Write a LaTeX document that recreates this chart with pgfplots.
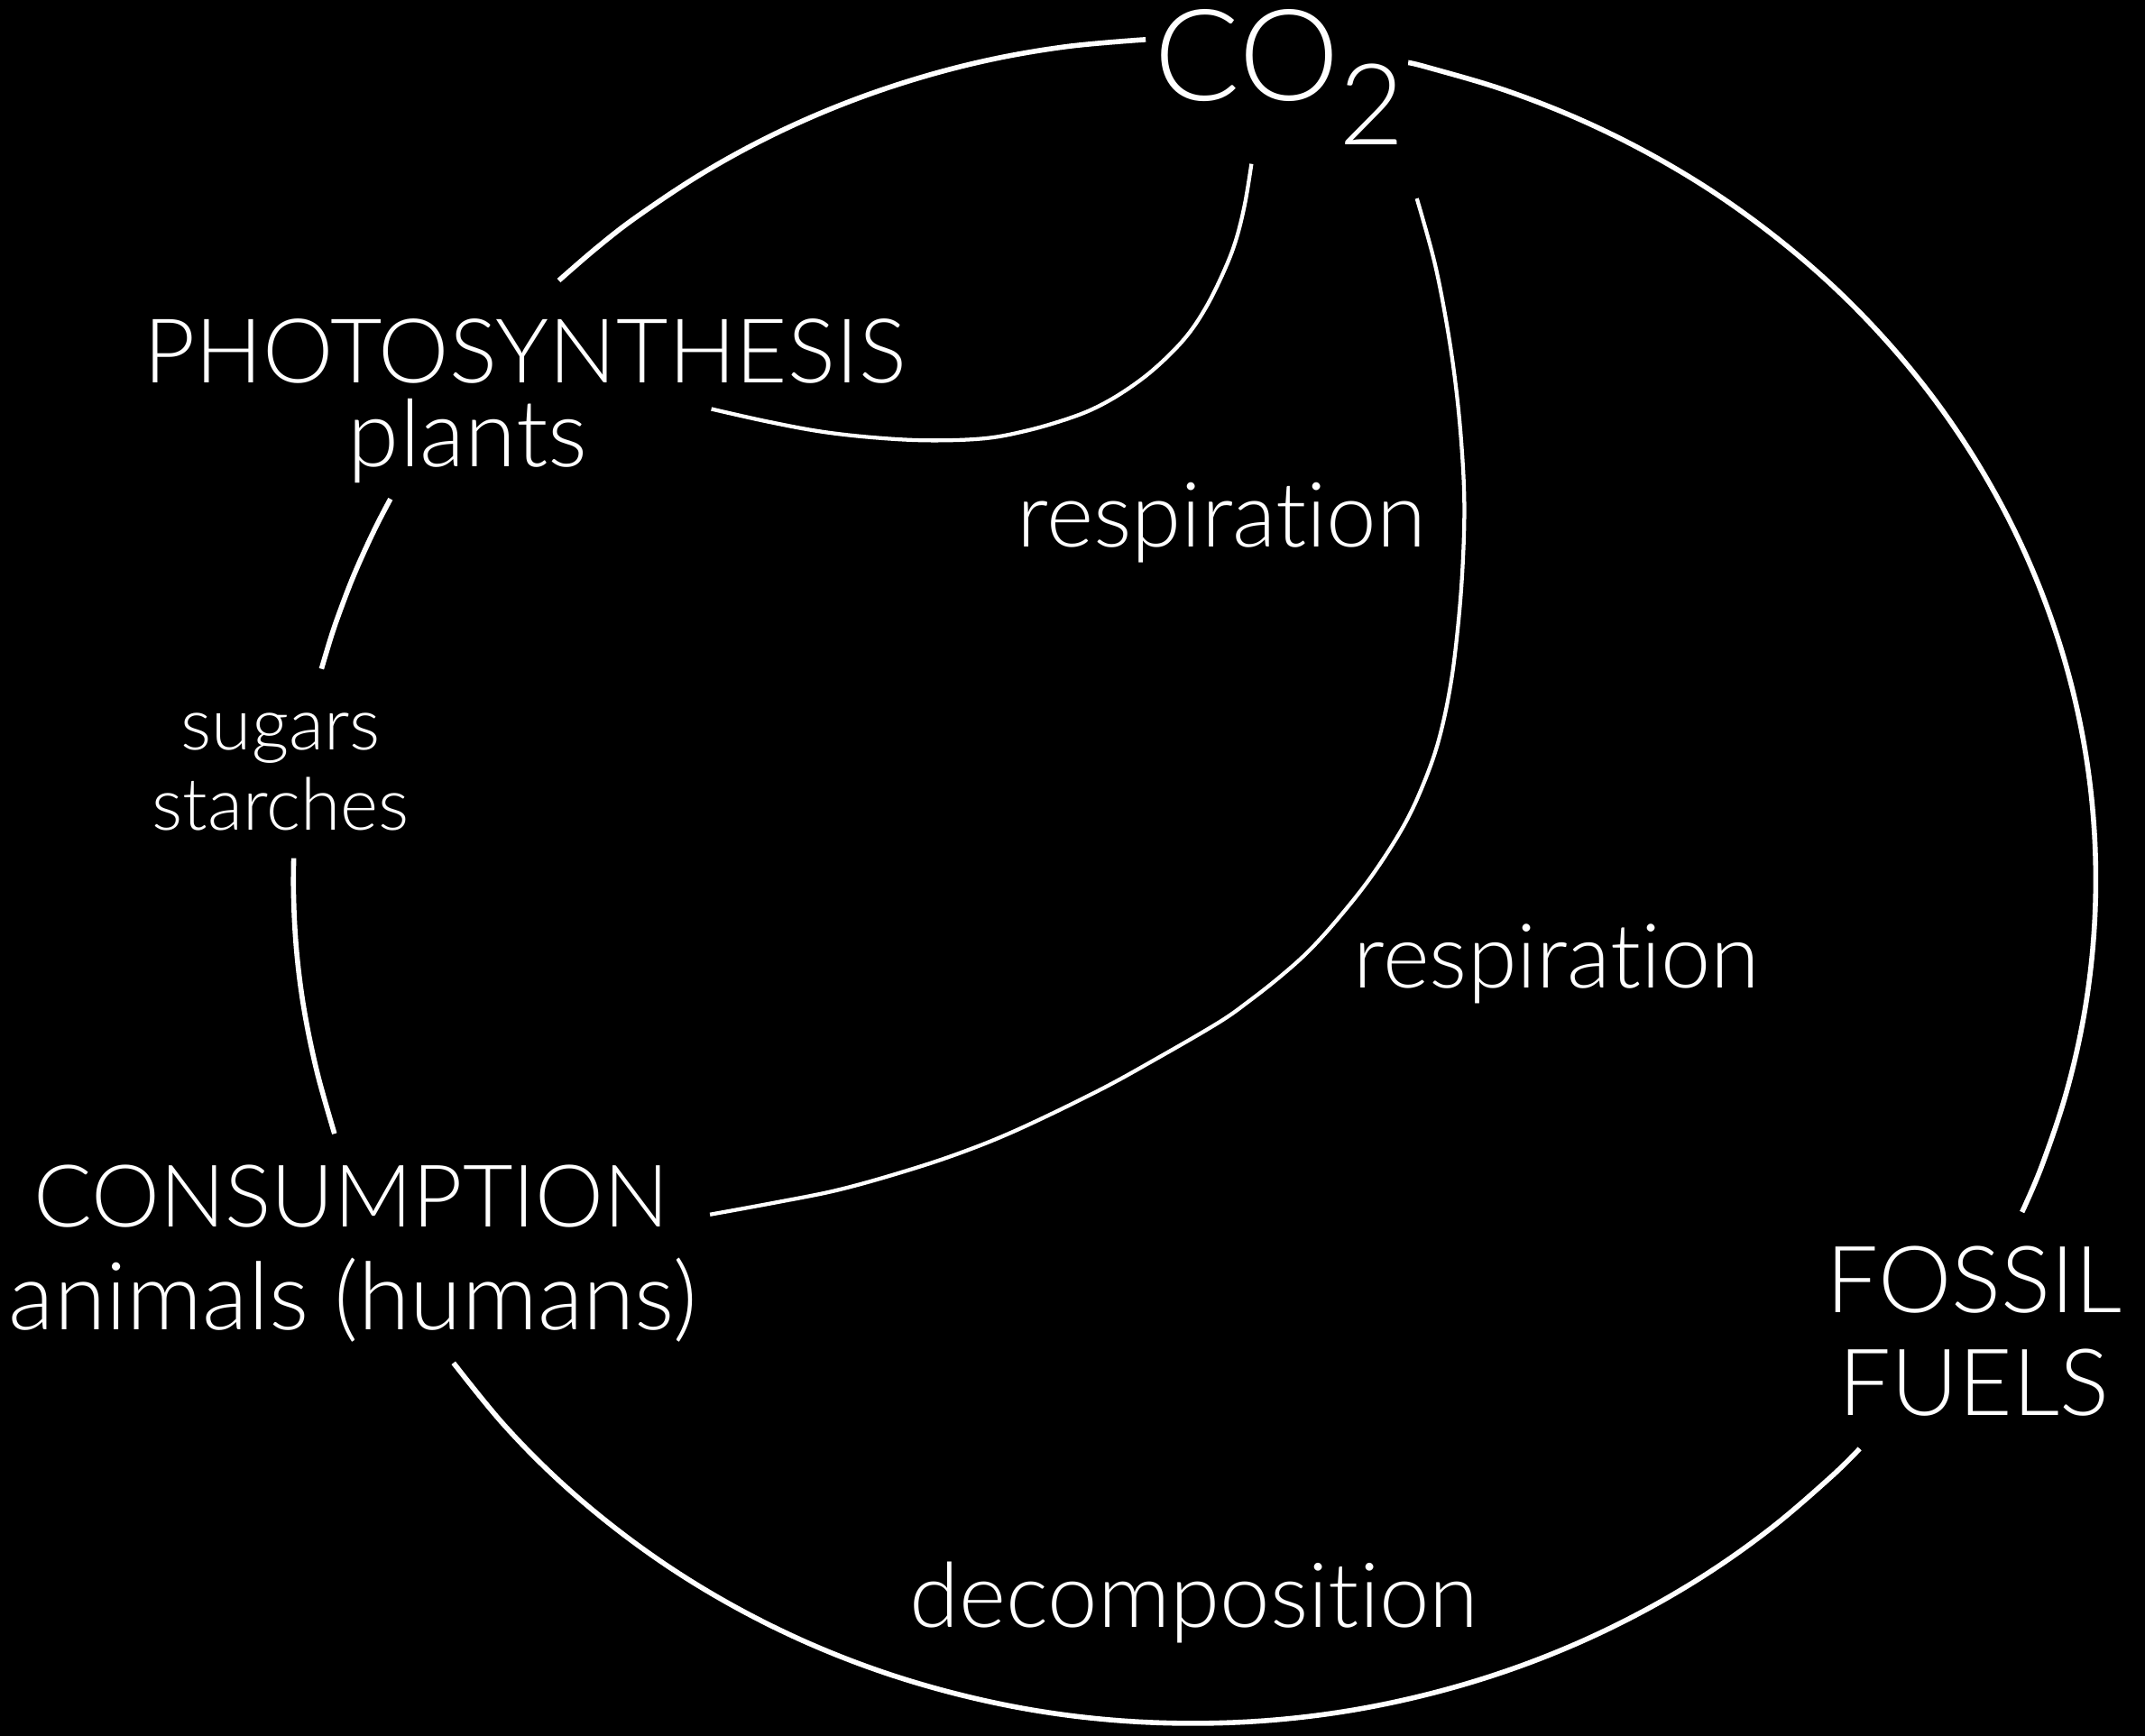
\documentclass[border=0pt]{standalone}
\usepackage{pgfplots}
\pgfplotsset{compat=1.18}
\usepackage{fontspec}
\setmainfont{Lato}[UprightFont=* Light, Ligatures={NoCommon,NoRare}]
\pagecolor{black}
\begin{document}
\begin{tikzpicture}
\begin{axis}[width=15.68cm, height=12.69cm, scale only axis,
  xmin=0, xmax=1568, ymin=0, ymax=1269, y dir=reverse,
  axis lines=none, clip=false,
  axis background/.style={fill=black}]
% outer ring, arc pieces
\addplot[white, line width=1.05pt, smooth, tension=0.6] coordinates {(837.5,28.9) (780.1,34.0) (723.5,43.7) (668.1,58.1) (614.1,76.9) (562.1,100.0) (512.6,127.2) (465.6,158.4) (436.4,181.0) (408.5,205.1)};
\addplot[white, line width=1.05pt, smooth, tension=0.6] coordinates {(285.4,364.8) (275.8,383.1) (266.5,402.7) (257.8,422.6) (250.0,442.8) (242.8,463.2) (235.0,489.0)};
\addplot[white, line width=1.05pt, smooth, tension=0.6] coordinates {(214.7,627.5) (214.5,649.0) (215.4,676.0) (217.5,702.7) (220.9,729.5) (225.6,756.0) (231.4,782.3) (237.0,803.2) (244.5,828.9)};
\addplot[white, line width=1.05pt, smooth, tension=0.6] coordinates {(331.5,996.5) (367.0,1040.2) (405.8,1079.9) (448.2,1116.1) (493.8,1148.8) (542.3,1177.6) (593.3,1202.4) (646.4,1222.9) (701.3,1239.0) (757.4,1250.7) (814.5,1257.7) (872.0,1260.0) (929.5,1257.7) (986.6,1250.7) (1042.8,1239.0) (1097.7,1222.9) (1150.9,1202.4) (1202.0,1177.6) (1250.6,1148.8) (1296.2,1116.1) (1338.7,1079.6) (1359.4,1059.2)};
\addplot[white, line width=1.05pt, smooth, tension=0.6] coordinates {(1478.1,886.2) (1492.2,853.3) (1509.5,802.2) (1522.0,749.8) (1529.5,696.6) (1532.0,643.0) (1529.5,589.4) (1522.0,536.2) (1509.5,483.8) (1492.2,432.7) (1470.2,383.1) (1443.6,335.5) (1412.7,290.2) (1377.6,247.7) (1338.7,208.1) (1296.2,171.9) (1250.6,139.2) (1202.0,110.4) (1150.9,85.6) (1097.7,65.1) (1042.8,49.0) (1029.4,45.8)};
% photosynthesis curve
\addplot[white, line width=0.8pt, smooth, tension=0.6] coordinates {(520,299) (560,308) (600,315.5) (640,320) (680,322) (720,320.5) (750,315) (778,307) (800,298.5) (822,286) (844,269.5) (866,247.5) (881.4,225) (894.6,198.5) (903.3,176) (909.9,149.5) (914.8,119.8)};
% respiration curve
\addplot[white, line width=0.8pt, smooth, tension=0.6] coordinates {(1035.7,145.1) (1048.4,190.8) (1057.2,234.9) (1063.8,279) (1068.2,323.2) (1070.4,367.3) (1069.3,411.5) (1066,455.7) (1060.5,500) (1052,540) (1041,572) (1026,604) (1003,640) (979.5,670) (957,695) (935.5,714.3) (913,732) (891,747.5) (846.2,773.6) (802.2,797.8) (742.9,826.4) (699,844) (655,858.3) (611,870.4) (567,879.2) (519,888)};
% labels
\node[white, anchor=base, font=\fontsize{26.5}{30}\selectfont] at (axis cs:911.5,73.6) {CO};
\node[white, anchor=base, font=\fontsize{23.5}{27}\selectfont] at (axis cs:1003,105.5) {2};
\node[white, anchor=base, font=\fontsize{18.6}{21}\selectfont] at (axis cs:384,280) {PHOTOSYNTHESIS};
\node[white, anchor=base, font=\fontsize{19.4}{22}\selectfont] at (axis cs:342,341) {plants};
\node[white, anchor=base, font=\fontsize{18.75}{21}\selectfont] at (axis cs:893,400) {respiration};
\node[white, anchor=base, font=\fontsize{15.1}{18}\selectfont] at (axis cs:205,548) {sugars};
\node[white, anchor=base, font=\fontsize{15.1}{18}\selectfont] at (axis cs:205,607) {starches};
\node[white, anchor=base, font=\fontsize{18.6}{21}\selectfont] at (axis cs:1138,722) {respiration};
\node[white, anchor=base, font=\fontsize{18}{21}\selectfont] at (axis cs:257,897) {CONSUMPTION};
\node[white, anchor=base, font=\fontsize{19.55}{22}\selectfont] at (axis cs:258,972) {animals (humans)};
\node[white, anchor=base, font=\fontsize{19.3}{22}\selectfont] at (axis cs:1443,960) {FOSSIL};
\node[white, anchor=base, font=\fontsize{19.3}{22}\selectfont] at (axis cs:1443,1035) {FUELS};
\node[white, anchor=base, font=\fontsize{18.7}{21}\selectfont] at (axis cs:873,1190) {decomposition};
\end{axis}
\pgfresetboundingbox
\useasboundingbox (current axis.south west) rectangle (current axis.north east);
\end{tikzpicture}
\end{document}
